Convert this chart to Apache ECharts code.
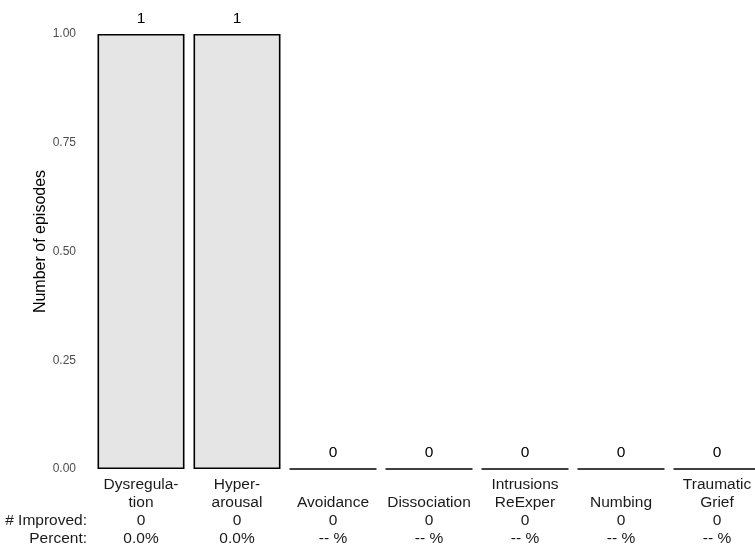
<!DOCTYPE html>
<html>
<head>
<meta charset="utf-8">
<script src="https://cdn.jsdelivr.net/npm/echarts@6/dist/echarts.min.js"></script>
<style>html,body{margin:0;padding:0;background:#fff}#c{width:755px;height:545px}</style>
</head>
<body>
<div id="c"></div>
<script>
var categories = ["Dysregula-\ntion", "Hyper-\narousal", "Avoidance", "Dissociation", "Intrusions\nReExper", "Numbing", "Traumatic\nGrief"];
var episodes = [1, 1, 0, 0, 0, 0, 0];
var improved = [0, 0, 0, 0, 0, 0, 0];
var percentLabels = ["0.0%", "0.0%", "-- %", "-- %", "-- %", "-- %", "-- %"];
var rowLabels = ["# Improved:", "Percent:"];
var yTicks = [0, 0.25, 0.5, 0.75, 1];

var chart = echarts.init(document.getElementById('c'), null, {renderer: 'canvas'});
var FONT = "Liberation Sans, Arial, sans-serif";
chart.setOption({
  backgroundColor: '#ffffff',
  animation: false,
  textStyle: {fontFamily: FONT},
  grid: {left: 93, top: 34, bottom: 76, width: 672, containLabel: false, outerBoundsMode: 'none'},
  xAxis: {
    type: 'category',
    data: categories,
    axisLine: {show: false},
    axisTick: {show: false},
    axisLabel: {
      interval: 0,
      margin: 7,
      fontSize: 15.5,
      lineHeight: 18,
      color: '#1a1a1a',
      fontFamily: FONT,
      verticalAlign: 'top',
      formatter: function (v, i) {
        var lines = v.split('\n');
        if (lines.length < 2) lines.unshift('');
        return lines.concat([String(improved[i]), percentLabels[i]]).join('\n');
      }
    }
  },
  yAxis: {
    type: 'value',
    min: 0,
    max: 1,
    interval: 0.25,
    name: 'Number of episodes',
    nameLocation: 'middle',
    nameGap: 44,
    nameMoveOverlap: false,
    nameTextStyle: {fontSize: 16, color: '#000', fontFamily: FONT, padding: [0, 0, 0, 20]},
    axisLine: {show: false},
    axisTick: {show: false},
    splitLine: {show: false},
    axisLabel: {
      margin: 17,
      fontSize: 12,
      color: '#4d4d4d',
      fontFamily: FONT,
      formatter: function (v) { return yTicks.indexOf(v) >= 0 ? v.toFixed(2) : ''; }
    }
  },
  series: [{
    type: 'bar',
    data: episodes,
    barWidth: 87,
    itemStyle: {color: '#e5e5e5', borderColor: '#000', borderWidth: 1.6},
    label: {
      show: true,
      position: 'top',
      distance: 7,
      fontSize: 15.5,
      color: '#000',
      fontFamily: FONT
    }
  }],
  graphic: rowLabels.map(function (t, k) {
    return {
      type: 'text',
      right: 755 - 87,
      top: 469 + 7 + 36 + 18 * k,
      style: {text: t, font: '15.5px ' + FONT, fill: '#1a1a1a', lineHeight: 18}
    };
  })
});
</script>
</body>
</html>
